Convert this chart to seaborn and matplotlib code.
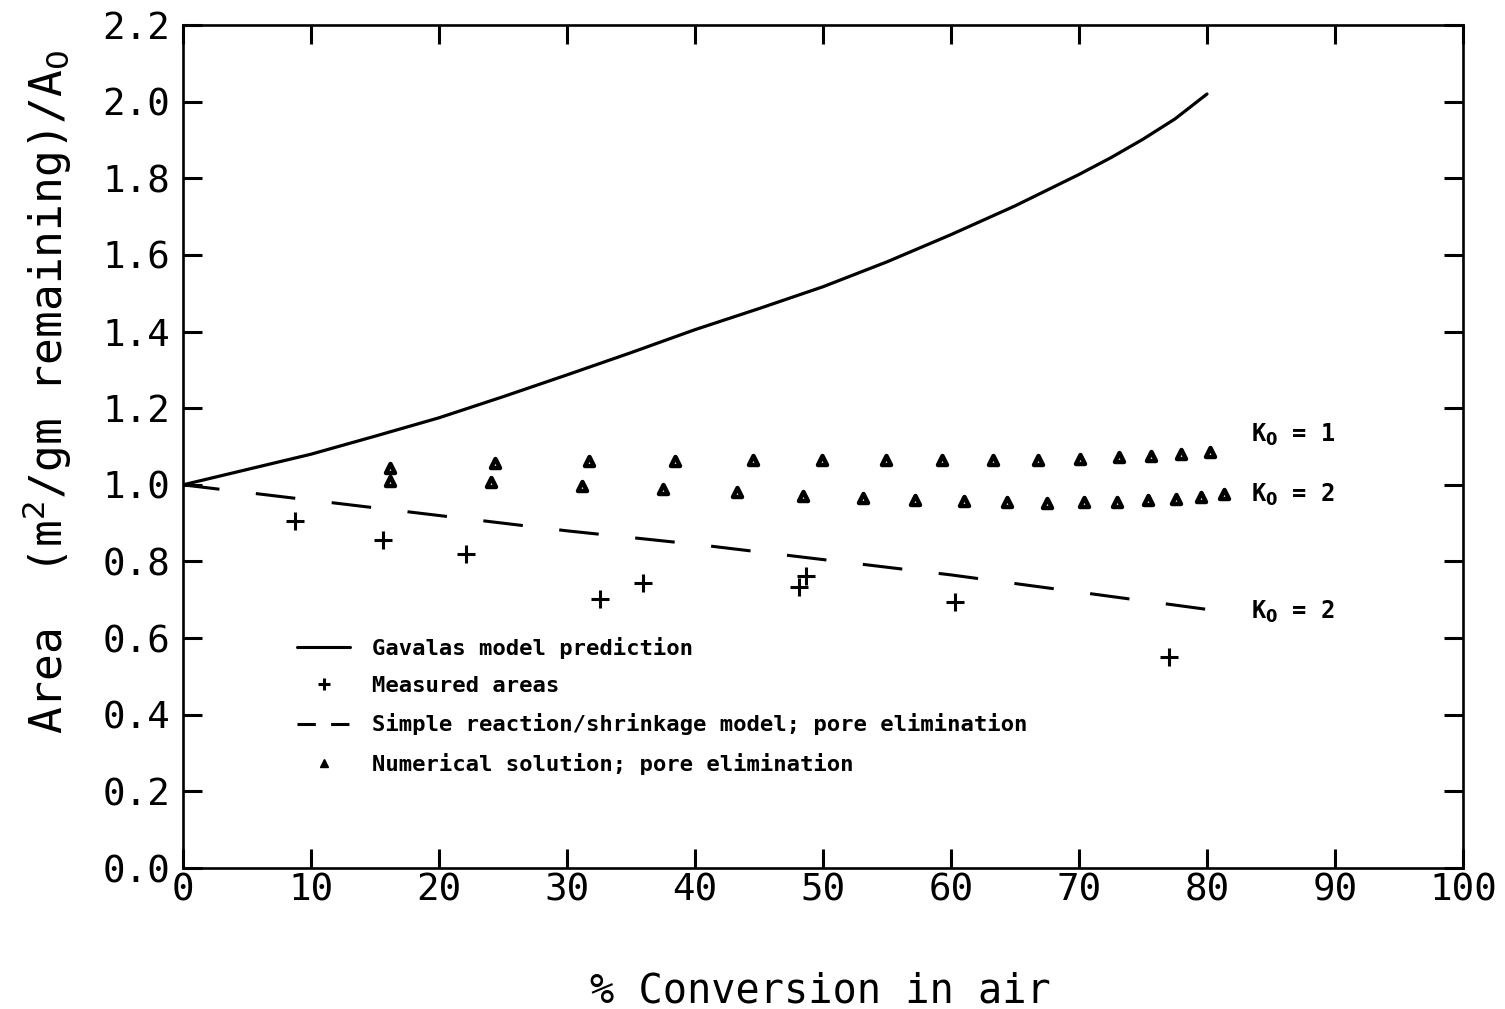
import numpy as np
import pandas as pd
import seaborn as sns
import matplotlib.pyplot as plt
from matplotlib.lines import Line2D

# Gavalas model prediction (solid curve)
gav_x = [0, 5, 10, 15, 20, 25, 30, 35, 40, 45, 50, 55, 60, 65, 70, 72.5, 75, 77.5, 80]
gav_y = [1.0, 1.04, 1.08, 1.127, 1.175, 1.23, 1.287, 1.345, 1.405, 1.46,
         1.517, 1.582, 1.653, 1.728, 1.81, 1.854, 1.902, 1.955, 2.02]

# simple reaction/shrinkage model, pore elimination (dashed)
srm_x = [0, 10, 20, 30, 40, 50, 60, 70, 80]
srm_y = [1.0, 0.96, 0.92, 0.88, 0.845, 0.805, 0.765, 0.72, 0.675]

# measured areas (+)
meas_x = [8.75, 15.6, 22.1, 32.6, 35.9, 48.1, 48.7, 60.3, 77.0]
meas_y = [0.906, 0.856, 0.820, 0.702, 0.744, 0.734, 0.763, 0.693, 0.551]

# numerical solution, K0 = 1
num1_x = [16.2, 24.4, 31.7, 38.4, 44.5, 49.9, 54.9, 59.3, 63.3, 66.8, 70.1, 73.1, 75.6, 78.0, 80.2]
num1_y = [1.044, 1.056, 1.061, 1.063, 1.065, 1.064, 1.064, 1.064, 1.064, 1.065, 1.067, 1.072, 1.074, 1.080, 1.087]

# numerical solution, K0 = 2
num2_x = [16.2, 24.1, 31.2, 37.5, 43.3, 48.4, 53.1, 57.2, 61.0, 64.4, 67.5, 70.4, 73.0, 75.4, 77.6, 79.5, 81.3]
num2_y = [1.011, 1.007, 0.997, 0.989, 0.981, 0.972, 0.965, 0.961, 0.957, 0.954, 0.953, 0.954, 0.954, 0.961, 0.963, 0.969, 0.976]

sns.set_style("ticks")
plt.rcParams['font.family'] = ['DejaVu Sans Mono', 'DejaVu Sans']
plt.rcParams['mathtext.fontset'] = 'dejavusans'
plt.rcParams['text.color'] = 'k'
plt.rcParams['axes.labelcolor'] = 'k'
plt.rcParams['xtick.color'] = 'k'
plt.rcParams['ytick.color'] = 'k'
plt.rcParams['axes.edgecolor'] = 'k'

fig = plt.figure(figsize=(15.05, 10.09), dpi=100)
ax = fig.add_axes([0.1216, 0.1397, 0.8505, 0.8355])

sns.lineplot(x=gav_x, y=gav_y, ax=ax, color='k', lw=2.3)
sns.lineplot(x=srm_x, y=srm_y, ax=ax, color='k', lw=2.2, linestyle=(1, (13, 12)))
sns.scatterplot(x=meas_x, y=meas_y, ax=ax, marker='+', s=170, color='k', linewidth=2.2)
num = pd.DataFrame({'x': num1_x + num2_x, 'y': num1_y + num2_y})
sns.scatterplot(data=num, x='x', y='y', ax=ax, marker='^', s=42,
                facecolor='white', edgecolor='k', linewidth=3.2)

ax.set_xlim(0, 100)
ax.set_ylim(0, 2.2)
ax.set_xticks(np.arange(0, 101, 10))
ax.set_yticks(np.arange(0, 2.21, 0.2))
ax.set_yticklabels([f"{v:.1f}" for v in np.arange(0, 2.21, 0.2)])
ax.tick_params(direction='in', length=14, width=2.2, top=True, right=True,
               labelsize=27, pad=3)
ax.tick_params(axis='y', pad=9)
for sp in ax.spines.values():
    sp.set_linewidth(1.9)
    sp.set_visible(True)

ax.set_xlabel("% Conversion in air", fontsize=29)
ax.set_ylabel(r"Area  (m$^2$/gm remaining)/A$_0$", fontsize=32)
ax.xaxis.set_label_coords(0.498, -0.123)
ax.yaxis.set_label_coords(-0.085, 0.565)

kw = dict(fontsize=17, fontweight='bold', va='center')
ax.text(83.4, 1.131, r"K$_\mathbf{0}$ = 1", **kw)
ax.text(83.4, 0.974, r"K$_\mathbf{0}$ = 2", **kw)
ax.text(83.4, 0.668, r"K$_\mathbf{0}$ = 2", **kw)

handles = [
    Line2D([], [], color='k', lw=2.2),
    Line2D([], [], color='k', marker='+', ls='none', ms=8, mew=2.2),
    Line2D([], [], color='k', lw=2.2, ls=(0, (6, 5))),
    Line2D([], [], color='k', marker='^', ls='none', ms=6),
]
labels = ["Gavalas model prediction", "Measured areas",
          "Simple reaction/shrinkage model; pore elimination",
          "Numerical solution; pore elimination"]
leg = ax.legend(handles, labels, loc='upper left', bbox_to_anchor=(0.082, 0.285),
                frameon=False, handlelength=2.4, handletextpad=1.0,
                labelspacing=0.78, borderaxespad=0,
                prop={'family': 'DejaVu Sans Mono', 'weight': 'bold', 'size': 16})

fig.savefig("out.png", dpi=100)
